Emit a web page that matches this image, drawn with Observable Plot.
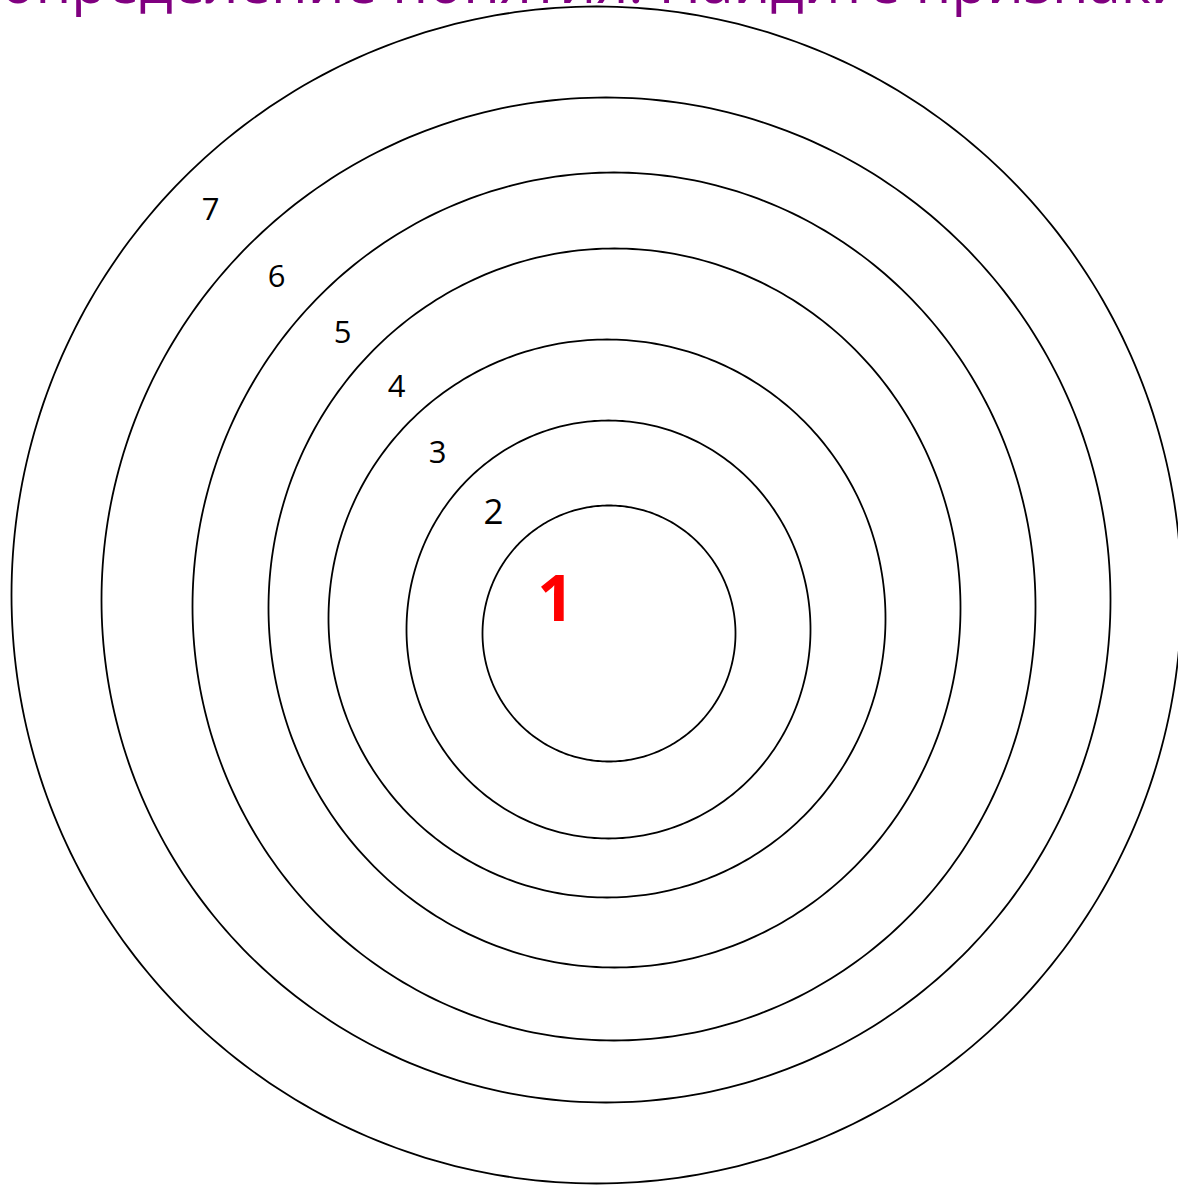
<!DOCTYPE html>
<html>
<head>
<meta charset="utf-8">
<script src="https://cdn.jsdelivr.net/npm/d3@7"></script>
<script src="https://cdn.jsdelivr.net/npm/@observablehq/plot@0.6"></script>
<style>
  html, body { margin: 0; padding: 0; background: #ffffff; overflow: hidden; }
  #chart svg { display: block; overflow: visible; }
</style>
</head>
<body>
<div id="chart"></div>
<script>
// Rings (outermost 7 to innermost 1): centre and radii in picture units
const ringIds = [7, 6, 5, 4, 3, 2, 1];
const ringCx  = [596, 605.5, 613.5, 614, 606.5, 608, 608.5];
const ringCy  = [594.5, 599.5, 606, 607.5, 618, 629, 633];
const ringRx  = [585, 504.5, 421.5, 346, 278.5, 202, 126.5];
const ringRy  = [588.5, 502.5, 434, 359.5, 279, 209, 128];

// Ring labels
const labelText = ["7", "6", "5", "4", "3", "2", "1"];
const labelX    = [210, 276, 342, 396, 437, 493, 555];
const labelY    = [210, 277, 333, 387, 453, 512, 600];
const labelSize = [31, 31, 31, 31, 31, 35, 64];
const labelBold = [false, false, false, false, false, false, true];
const labelColor = ["#000000", "#000000", "#000000", "#000000", "#000000", "#000000", "#ff0000"];

// Title (cropped at the top of the picture)
const titleText = "определение понятия. Найдите признаки";

const W = 1178, H = 1186;

// Outline points for each ring, derived from the ring arrays
const steps = 360;
const ringPts = [];
ringIds.forEach((id, i) => {
  for (let k = 0; k <= steps; k++) {
    const a = (2 * Math.PI * k) / steps;
    ringPts.push({ ring: id, x: ringCx[i] + ringRx[i] * Math.cos(a), y: ringCy[i] + ringRy[i] * Math.sin(a) });
  }
});

const labels = labelText.map((t, i) => ({
  t, x: labelX[i], y: labelY[i], size: labelSize[i], bold: labelBold[i], color: labelColor[i]
}));

const font = "'Open Sans', 'Noto Sans', sans-serif";

const plot = Plot.plot({
  width: W,
  height: H,
  margin: 0,
  style: { background: "#ffffff", overflow: "visible" },
  x: { domain: [0, W], range: [0, W], axis: null },
  y: { domain: [0, H], range: [0, H], axis: null },
  marks: [
    Plot.line(ringPts, { x: "x", y: "y", z: "ring", stroke: "#000000", strokeWidth: 1.8, curve: "linear" }),
    ...labels.map(d => Plot.text([d], {
      x: "x", y: "y", text: "t",
      fill: d.color,
      fontSize: d.size,
      fontWeight: d.bold ? "bold" : "normal",
      fontFamily: font,
      textAnchor: "middle",
      lineAnchor: "middle"
    })),
    Plot.text([titleText], {
      x: () => 0, y: () => -16, text: d => d,
      fill: "#800080",
      fontSize: 58,
      fontFamily: font,
      textAnchor: "start",
      lineAnchor: "middle"
    })
  ]
});

document.getElementById("chart").appendChild(plot);
</script>
</body>
</html>
